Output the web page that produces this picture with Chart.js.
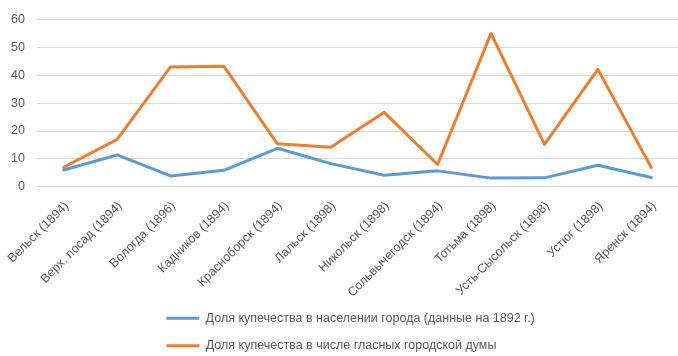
<!DOCTYPE html>
<html>
<head>
<meta charset="utf-8">
<script src="https://cdn.jsdelivr.net/npm/chart.js@4/dist/chart.umd.min.js"></script>
<style>
  html, body { margin: 0; padding: 0; background: #ffffff; }
  #wrap { width: 678px; height: 356px; }
</style>
</head>
<body>
<div id="wrap"><canvas id="c" width="678" height="356"></canvas></div>
<script>
const categories = [
  "Вельск (1894)", "Верх. посад (1894)", "Вологда (1896)", "Кадников (1894)",
  "Красноборск (1894)", "Лальск (1898)", "Никольск (1898)", "Сольвычегодск (1894)",
  "Тотьма (1898)", "Усть-Сысольск (1898)", "Устюг (1898)", "Яренск (1894)"
];
const seriesNames = [
  "Доля купечества в населении города (данные на 1892 г.)",
  "Доля купечества в числе гласных городской думы"
];
const populationShare = [6.0, 11.4, 3.9, 5.9, 13.8, 8.3, 4.1, 5.7, 3.1, 3.2, 7.7, 3.3];
const councilShare = [7.0, 17.0, 43.0, 43.2, 15.4, 14.2, 26.7, 8.0, 55.0, 15.2, 42.1, 6.9];
const yTicks = [0, 10, 20, 30, 40, 50, 60];

const FONT = "'Liberation Sans', Arial, sans-serif";
const TEXT = "#595959";
const FS = 12.5;

// pad legend labels with trailing spaces so both legend rows start at the same x
function padLabels(labels, size, extra) {
  const ctx = document.createElement('canvas').getContext('2d');
  ctx.font = size + "px " + FONT;
  const widths = labels.map(l => ctx.measureText(l).width);
  const target = Math.max(...widths) + extra;
  const sp = ctx.measureText("\u00a0").width;
  return labels.map((l, i) => l + "\u00a0".repeat(Math.round((target - widths[i]) / sp)));
}
const legendNames = padLabels(seriesNames, FS, 13);

new Chart(document.getElementById('c'), {
  type: 'line',
  data: {
    labels: categories,
    datasets: [
      { label: legendNames[0], data: populationShare, borderColor: '#5B9BD5', backgroundColor: '#5B9BD5',
        borderWidth: 3, pointRadius: 0, tension: 0, borderJoinStyle: 'round', borderCapStyle: 'round' },
      { label: legendNames[1], data: councilShare, borderColor: '#ED7D31', backgroundColor: '#ED7D31',
        borderWidth: 3, pointRadius: 0, tension: 0, borderJoinStyle: 'round', borderCapStyle: 'round' }
    ]
  },
  options: {
    responsive: false,
    animation: false,
    devicePixelRatio: 1,
    layout: { padding: { top: 9, right: 0, left: 0, bottom: -6 } },
    plugins: {
      legend: {
        position: 'bottom',
        fullSize: false,
        labels: {
          font: { family: FONT, size: FS },
          color: TEXT,
          usePointStyle: true,
          pointStyle: 'line',
          pointStyleWidth: 33,
          boxHeight: 12,
          padding: 15
        }
      },
      tooltip: { enabled: false }
    },
    scales: {
      x: {
        offset: true,
        afterFit: s => { s.height -= 15; s.paddingLeft = 0; s.paddingRight = 0; },
        grid: { display: false, drawTicks: false },
        border: { display: false },
        ticks: {
          font: { family: FONT, size: FS },
          color: TEXT,
          maxRotation: 45,
          minRotation: 45,
          autoSkip: false,
          padding: 12,
          labelOffset: 3
        }
      },
      y: {
        min: 0,
        max: 60,
        afterFit: s => { s.width = 37; },
        afterBuildTicks: s => { s.ticks = yTicks.map(v => ({ value: v })); },
        grid: { color: '#D9D9D9', lineWidth: 1, drawTicks: false },
        border: { display: false },
        ticks: {
          font: { family: FONT, size: FS },
          color: TEXT,
          padding: 12
        }
      }
    }
  }
});
</script>
</body>
</html>
